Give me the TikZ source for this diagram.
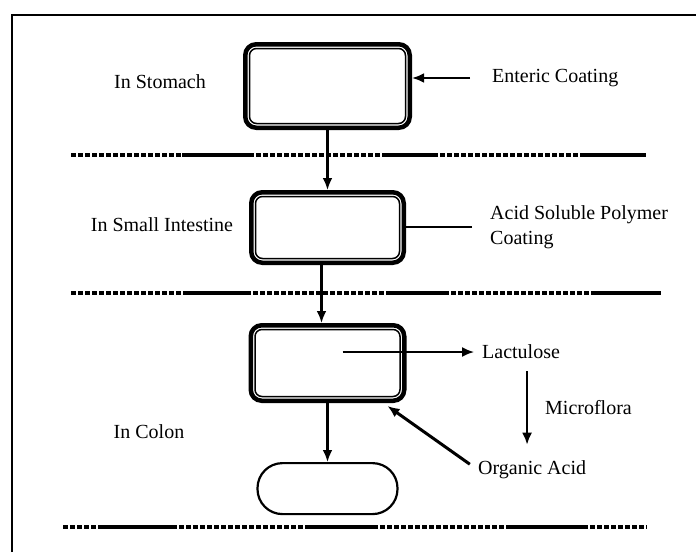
\documentclass[tikz,border=0pt]{standalone}
\usepackage{fontspec}
\setmainfont{Liberation Serif}
\usetikzlibrary{arrows.meta,positioning}
\tikzset{
  capsule/.style={draw, line width=4.5pt, rounded corners=11pt, inner sep=0pt},
  pellet/.style={draw, line width=2.2pt, rounded corners=25pt, inner sep=0pt,
    minimum width=140pt, minimum height=51pt},
  txt/.style={font=\fontsize{20}{25}\selectfont, inner sep=0pt, align=left},
  arr/.style={-{Latex[length=12pt,width=10pt]}, line width=2.6pt},
  dashline/.style={line width=3.4pt, dash pattern=on 4.5pt off 2.5pt},
  solidline/.style={line width=3.6pt}
}
\begin{document}
\begin{tikzpicture}[x=1pt,y=-1pt]
\useasboundingbox (0,0) rectangle (696,552);
\draw[line width=2.5pt] (12,552) -- (12,15) -- (696,15); % frame

% the three stages
\node[capsule, minimum width=164.5pt, minimum height=83.5pt] (b1) at (327.5,86) {};
\node[capsule, minimum width=152.5pt, minimum height=70.5pt, below=60pt of b1] (b2) {};
\node[capsule, minimum width=153.5pt, minimum height=75.5pt, below=58pt of b2] (b3) {};
\node[pellet, below=59pt of b3] (blob) {};
\foreach \b in {b1,b2,b3} % inner line of the coating
\draw[line width=1.5pt, rounded corners=7pt] ([shift={(6.5,6.5)}]\b.north west) rectangle ([shift={(-6.5,-6.5)}]\b.south east);

% labels
\node[txt] (stom) at (160,82) {In Stomach};
\node[txt] (smal) at (162,225) {In Small Intestine};
\node[txt] (colo) at (149,432) {In Colon};
\node[txt, anchor=west] (ent) at (492,78) {Enteric Coating};
\node[txt, anchor=west] (acid) at (490,227) {Acid Soluble Polymer\\Coating};
\node[txt, anchor=west] (lac) at (482,352) {Lactulose};
\node[txt, anchor=west] (mic) at (545,408) {Microflora};
\node[txt, anchor=west] (org) at (478,470) {Organic Acid};

% connectors
\draw[arr] (b1.south) -- (b2.north);
\draw[arr] ([xshift=-6pt]b2.south) -- ([xshift=-6pt]b3.north);
\draw[arr] (b3.south) -- (blob.north);
\draw[arr, shorten <=22pt] (ent.west) -- (ent.west -| b1.east);
\draw[line width=2.6pt, shorten <=18pt] (acid.west) -- (acid.west -| b2.east);
\draw[arr, line width=1.8pt, shorten >=8pt] ([xshift=15pt]b3.center |- lac.west) -- (lac.west);
\draw[arr, shorten <=12pt, shorten >=16pt] ([xshift=6pt]lac.south) -- ([xshift=6pt]lac.south |- org.north);
\draw[arr, line width=3pt, shorten <=10pt] (org.west) -- ([shift={(-19,3)}]b3.south east);

% separator lines
\foreach \a/\b in {71/182,249/386,433/581} \draw[dashline] (\a,155) -- (\b,155);
\foreach \a/\b in {182/249,386/433,581/646} \draw[solidline] (\a,155) -- (\b,155);
\foreach \a/\b in {71/186,246/386,444/595} \draw[dashline] (\a,293) -- (\b,293);
\foreach \a/\b in {186/246,386/444,595/661} \draw[solidline] (\a,293) -- (\b,293);
\foreach \a/\b in {63/100,172/310,373/510,583/647} \draw[dashline] (\a,527) -- (\b,527);
\foreach \a/\b in {100/172,310/373,510/583} \draw[solidline] (\a,527) -- (\b,527);
\end{tikzpicture}
\end{document}
